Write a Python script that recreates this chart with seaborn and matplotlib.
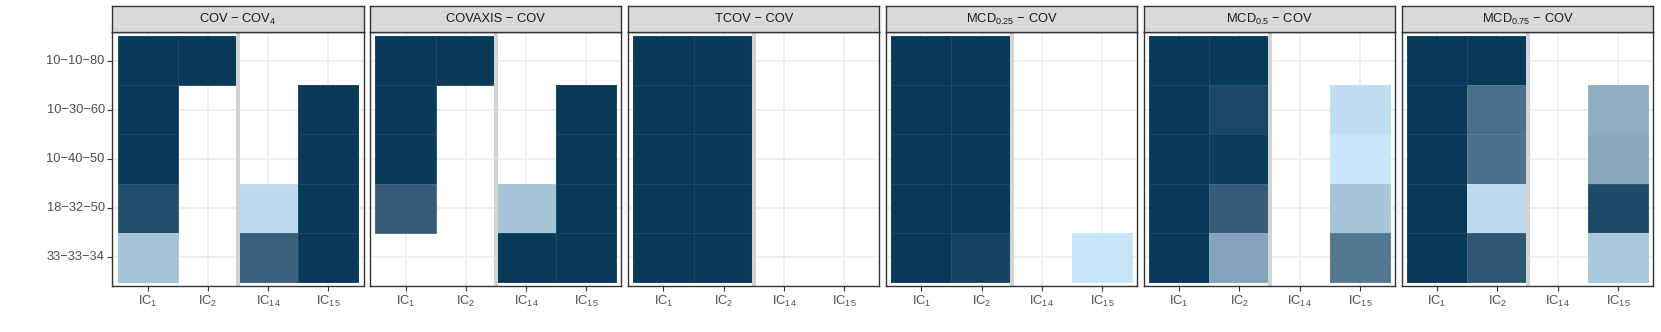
import numpy as np
import pandas as pd
import matplotlib
matplotlib.use("Agg")
import matplotlib.pyplot as plt
import seaborn as sns
from matplotlib.colors import LinearSegmentedColormap

sns.set_theme(style="white")
plt.rcParams['font.family'] = ['Liberation Sans', 'DejaVu Sans']
plt.rcParams['mathtext.fontset'] = 'custom'
plt.rcParams['mathtext.rm'] = 'Liberation Sans'
plt.rcParams['mathtext.it'] = 'Liberation Sans'
plt.rcParams['mathtext.default'] = 'regular'

# categories
ratios = ["10\u221210\u221280", "10\u221230\u221260", "10\u221240\u221250", "18\u221232\u221250", "33\u221233\u221234"]
components = ["IC$_1$", "IC$_2$", "IC$_{14}$", "IC$_{15}$"]
panel_titles = ["COV \u2212 COV$_4$", "COVAXIS \u2212 COV", "TCOV \u2212 COV",
                "MCD$_{0.25}$ \u2212 COV", "MCD$_{0.5}$ \u2212 COV", "MCD$_{0.75}$ \u2212 COV"]

# values (rows = ratios, cols = IC1, IC2, IC14, IC15), nan = no value
N = np.nan
cov_cov4 = [[1, 1, N, N], [1, N, N, 1], [1, N, N, 1], [0.87, N, 0.06, 1], [0.19, N, 0.74, 1]]
covaxis_cov = [[1, 1, N, N], [1, N, N, 1], [1, N, N, 1], [0.76, N, 0.18, 1], [N, N, 1, 1]]
tcov_cov = [[1, 1, N, N], [1, 1, N, N], [1, 1, N, N], [1, 1, N, N], [1, 1, N, N]]
mcd025_cov = [[1, 1, N, N], [1, 1, N, N], [1, 1, N, N], [1, 1, N, N], [1, 0.93, N, 0.01]]
mcd05_cov = [[1, 1, N, N], [1, 0.91, N, 0.05], [1, 0.98, N, 0.0], [1, 0.76, N, 0.18], [1, 0.36, N, 0.6]]
mcd075_cov = [[1, 1, N, N], [1, 0.65, N, 0.31], [1, 0.64, N, 0.34], [1, 0.06, N, 0.88], [1, 0.79, N, 0.17]]
panel_values = [cov_cov4, covaxis_cov, tcov_cov, mcd025_cov, mcd05_cov, mcd075_cov]

cmap = LinearSegmentedColormap.from_list(
    "blues", [(0, "#C8E6F7"), (0.6, "#557891"), (0.75, "#385E7A"), (1, "#073A59")])

W, H = 1661, 332
fig = plt.figure(figsize=(W / 100, H / 100), dpi=100)
fig.patch.set_facecolor("white")

fs = 9.3
for i, (title, vals) in enumerate(zip(panel_titles, panel_values)):
    left = (112.5 + i * 257.9) / W
    ax = fig.add_axes([left, 46 / H, 251 / W, 254 / H])
    df = pd.DataFrame(vals, index=ratios, columns=components)
    ax.set_axisbelow(True)
    sns.heatmap(df, ax=ax, cmap=cmap, vmin=0, vmax=1, cbar=False,
                linewidths=0.5, linecolor=(1, 1, 1, 0.08))
    ax.set_xlim(-0.083, 4.083)
    ax.set_ylim(5.09, -0.09)
    ax.grid(True, color="#EBEBEB", lw=1.1)
    ax.axvline(2, color="#D3D3D3", lw=2.9, zorder=3)
    for sp in ax.spines.values():
        sp.set_visible(True)
        sp.set_color("#333333")
        sp.set_linewidth(1.0)
        sp.set_zorder(4)
    ax.set_xlabel("")
    ax.set_ylabel("")
    ax.tick_params(axis="x", bottom=True, length=3.5, width=0.8, color="#333333",
                   labelsize=fs, labelcolor="#4D4D4D", pad=2)
    ax.set_xticklabels(components, rotation=0)
    if i == 0:
        ax.tick_params(axis="y", left=True, length=3.5, width=0.8, color="#333333",
                       labelsize=fs, labelcolor="#4D4D4D", pad=2)
        ax.set_yticklabels(ratios, rotation=0)
    else:
        ax.tick_params(axis="y", left=False, labelleft=False)

    # facet strip
    sax = fig.add_axes([left, 300 / H, 251 / W, 26 / H])
    sax.set_facecolor("#D9D9D9")
    sax.set_xticks([])
    sax.set_yticks([])
    for sp in sax.spines.values():
        sp.set_visible(True)
        sp.set_color("#333333")
        sp.set_linewidth(1.0)
    sax.text(0.5, 0.5, title, ha="center", va="center", fontsize=fs,
             color="#1A1A1A", transform=sax.transAxes)

fig.savefig("out.png", dpi=100, facecolor="white")
